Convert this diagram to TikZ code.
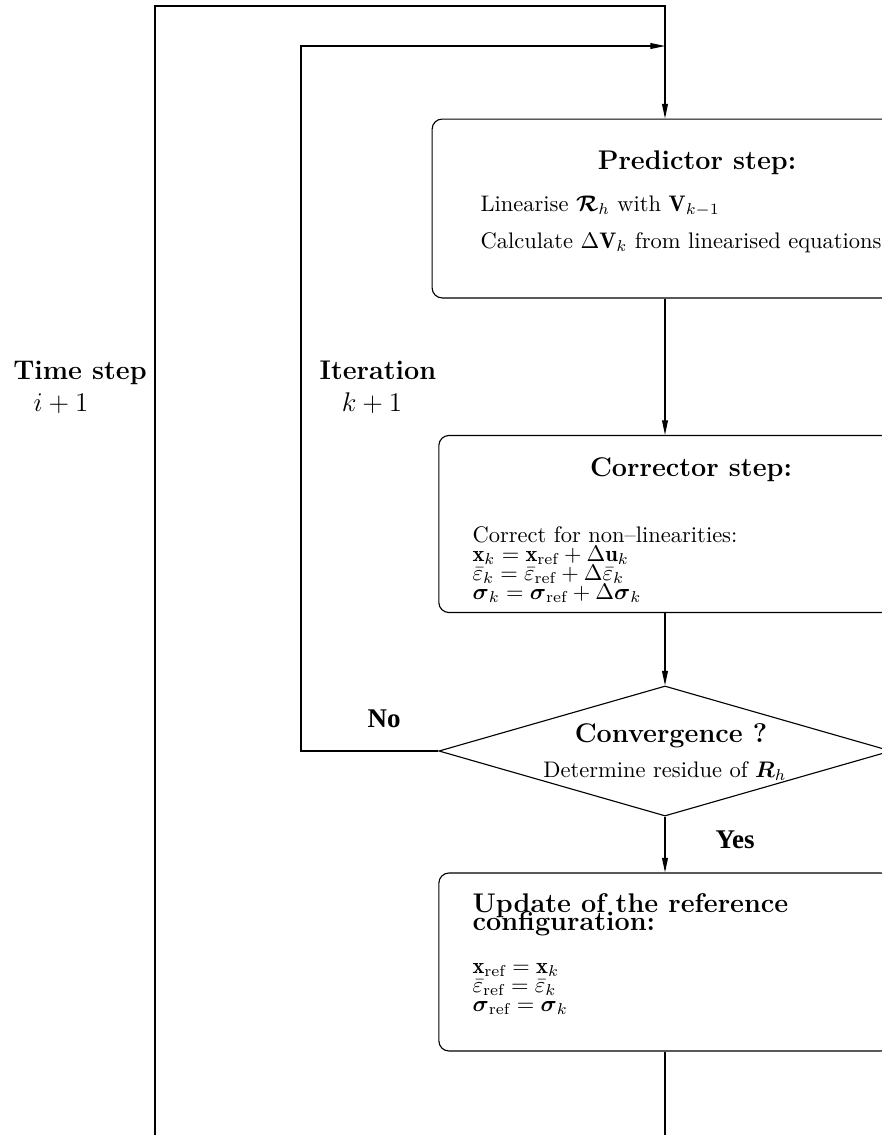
\documentclass[tikz,border=0pt]{standalone}
\usepackage{amsmath}
\usepackage{fontspec}
\newfontfamily\timesbf{Liberation Serif}[BoldFont={Liberation Serif Bold}]
\usetikzlibrary{arrows.meta,shapes.geometric}

\begin{document}
\begin{tikzpicture}[x=0.4444pt,y=0.4444pt,line width=0.5pt,
  stepbox/.style={draw,rounded corners=4.5pt,minimum width=201pt,minimum height=79pt},
  flow/.style={-{Triangle[length=6.5pt,width=2.6pt]}},
  steptitle/.style={font=\large\bfseries,anchor=base},
  answer/.style={font=\timesbf\large\bfseries,anchor=base west}]
\tikzstyle{every node}+=[inner sep=0pt]
\useasboundingbox (0,0) rectangle (882,-1135);
\clip (0,0) rectangle (882,-1135);
% boxes
\node [stepbox,minimum width=207pt,minimum height=79.5pt] (pred) at (665,-208.5) {};
\node [stepbox,minimum height=78.7pt] (corr) at (665,-524) {};
\node [draw,diamond,minimum width=201pt,minimum height=57.8pt] (conv) at (665,-751) {};
\node [stepbox,minimum height=79.1pt] (upd) at (665,-962) {};
% texts
\node [steptitle] (predtitle) at (697,-169) {Predictor step:};
\node [anchor=base west] (predlin) at (480,-211) {Linearise $\boldsymbol{\mathcal{R}}_h$ with $\mathbf{V}_{k-1}$};
\node [anchor=base west] (predcalc) at (480,-248) {Calculate $\Delta\mathbf{V}_k$ from linearised equations};
\node [steptitle] (corrtitle) at (691,-476) {Corrector step:};
\node [anchor=base west] (corrtext) at (472,-542) {Correct for non--linearities:};
\node [anchor=base west] (corrx) at (472,-561) {$\mathbf{x}_k=\mathbf{x}_{\mathrm{ref}}+\Delta\mathbf{u}_k$};
\node [anchor=base west] (correps) at (472,-580) {$\bar{\varepsilon}_k=\bar{\varepsilon}_{\mathrm{ref}}+\Delta\bar{\varepsilon}_k$};
\node [anchor=base west] (corrsig) at (472,-599) {$\boldsymbol{\sigma}_k=\boldsymbol{\sigma}_{\mathrm{ref}}+\Delta\boldsymbol{\sigma}_k$};
\node [steptitle] (convtitle) at (671,-742) {Convergence ?};
\node [anchor=base] (convtext) at (665,-777) {Determine residue of $\boldsymbol{R}_h$};
\node [steptitle,anchor=base west] (updtitle) at (472,-912) {Update of the reference};
\node [steptitle,anchor=base west] (updtitleb) at (472,-930) {configuration:};
\node [anchor=base west] (updx) at (472,-973) {$\mathbf{x}_{\mathrm{ref}}=\mathbf{x}_k$};
\node [anchor=base west] (updeps) at (472,-992) {$\bar{\varepsilon}_{\mathrm{ref}}=\bar{\varepsilon}_k$};
\node [anchor=base west] (updsig) at (472,-1011) {$\boldsymbol{\sigma}_{\mathrm{ref}}=\boldsymbol{\sigma}_k$};
\node [steptitle] (timestep) at (80,-379) {Time step};
\node [anchor=base,font=\large] (timei) at (61,-411) {$i+1$};
\node [steptitle] (iter) at (378,-379) {Iteration};
\node [anchor=base,font=\large] (iterk) at (372,-411) {$k+1$};
\node [answer] (no) at (367,-727) {No};
\node [answer] (yes) at (715,-848) {Yes};
% loop corners
\coordinate (outtop) at (665,-6);
\coordinate (outbot) at (155,-1140);
\coordinate (updbot) at (665,-1140);
\coordinate (intop) at (665,-46);
\coordinate (inleft) at (301,-46);
% connectors
\draw [flow] (pred.south) -- (corr.north);
\draw [flow] (corr.south) -- (conv.north);
\draw [flow] (conv.south) -- (upd.north);
\draw (upd.south) -- (updbot);
\draw [flow] (outbot) |- (outtop) -- (pred.north);
\draw [flow] (conv.west) -| (inleft) -- (intop);
\end{tikzpicture}
\end{document}
